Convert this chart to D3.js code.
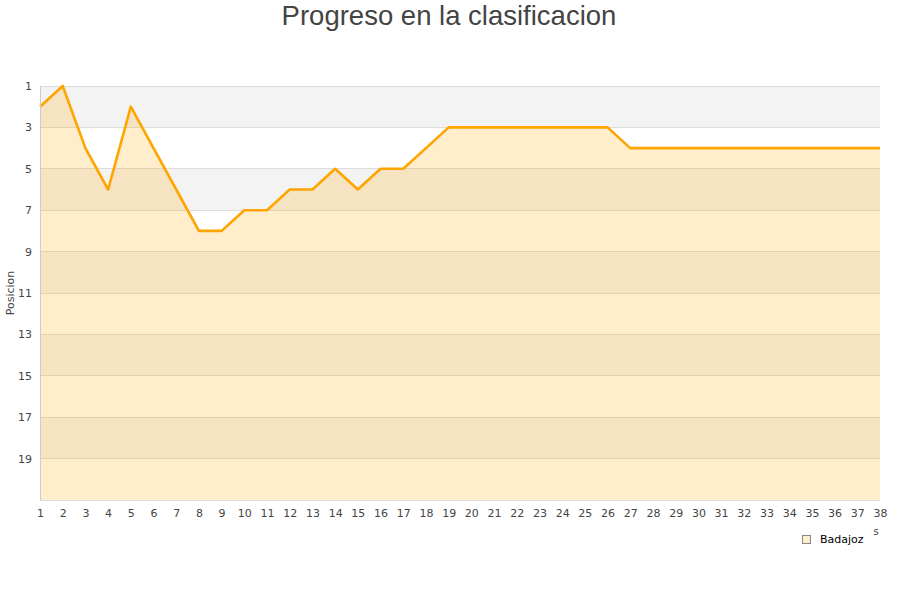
<!DOCTYPE html>
<html><head><meta charset="utf-8">
<script src="https://cdn.jsdelivr.net/npm/d3@7"></script>
<style>body{margin:0;background:#fff;font-family:"DejaVu Sans",sans-serif;}</style>
</head><body>
<svg id="c" width="900" height="600"></svg>
<script>
const jornadas = d3.range(1, 39);
const posiciones = [2,1,4,6,2,4,6,8,8,7,7,6,6,5,6,5,5,4,3,3,3,3,3,3,3,3,4,4,4,4,4,4,4,4,4,4,4,4];
const yTicks = [1,3,5,7,9,11,13,15,17,19];
const equipo = "Badajoz";

const svg = d3.select("#c");
const L = 40, R = 880, T = 86, B = 500;
const x = d3.scaleLinear().domain([1, 38]).range([L, R]);
const y = d3.scaleLinear().domain([1, 21]).range([T, B]);

// bands
const bands = d3.range(1, 21, 2);
svg.selectAll("rect.band").data(bands).enter().append("rect")
  .attr("x", L).attr("width", R - L)
  .attr("y", d => y(d)).attr("height", d => y(d + 2) - y(d))
  .attr("fill", (d, i) => i % 2 === 0 ? "#f3f3f3" : "#ffffff");

// gridlines
svg.selectAll("line.grid").data(yTicks).enter().append("line")
  .attr("x1", L).attr("x2", R).attr("y1", d => y(d)).attr("y2", d => y(d))
  .attr("stroke", "#dddddd").attr("stroke-width", 1).attr("shape-rendering", "crispEdges");

const data = jornadas.map((j, i) => ({j, p: posiciones[i]}));
svg.append("path").datum(data)
  .attr("d", d3.area().x(d => x(d.j)).y0(B).y1(d => y(d.p)))
  .attr("fill", "#ffa500").attr("fill-opacity", 0.2);
svg.append("path").datum(data)
  .attr("d", d3.line().x(d => x(d.j)).y(d => y(d.p)))
  .attr("fill", "none").attr("stroke", "#ffa500").attr("stroke-width", 2.6).attr("stroke-linejoin", "round");

// frame lines
svg.append("line").attr("x1", L).attr("x2", L).attr("y1", T).attr("y2", B)
  .attr("stroke", "#cccccc").attr("shape-rendering", "crispEdges");
svg.append("line").attr("x1", L).attr("x2", R).attr("y1", B).attr("y2", B)
  .attr("stroke", "#dddddd").attr("shape-rendering", "crispEdges");

// y axis
const ya = svg.append("g").attr("transform", `translate(${L},0)`)
  .call(d3.axisLeft(y).tickValues(yTicks).tickSize(0).tickPadding(8));
ya.select(".domain").remove();
ya.selectAll("text").attr("fill", "#444").attr("font-size", 11).attr("font-family", "DejaVu Sans");

// x axis
const xa = svg.append("g").attr("transform", `translate(0,${B})`)
  .call(d3.axisBottom(x).tickValues(jornadas).tickSize(0).tickPadding(9).tickFormat(d3.format("d")));
xa.select(".domain").remove();
xa.selectAll("text").attr("fill", "#444").attr("font-size", 11).attr("font-family", "DejaVu Sans");

// title
svg.append("text").attr("x", 449).attr("y", 25).attr("text-anchor", "middle")
  .attr("font-family", "Liberation Sans, Arial, sans-serif").attr("font-size", 27.5).attr("fill", "#444")
  .text("Progreso en la clasificacion");

// y label
svg.append("text").attr("transform", `translate(14,${(T + B) / 2}) rotate(-90)`)
  .attr("text-anchor", "middle").attr("font-size", 11).attr("fill", "#444").text("Posicion");

// stray axis-title fragment
svg.append("text").attr("x", 876).attr("y", 535).attr("text-anchor", "middle")
  .attr("font-size", 10).attr("fill", "#444").text("s");

// legend
svg.append("rect").attr("x", 802.5).attr("y", 535.5).attr("width", 8).attr("height", 8)
  .attr("fill", "#ffedcc").attr("stroke", "#888").attr("stroke-width", 1);
svg.append("text").attr("x", 820).attr("y", 543).attr("font-size", 11).attr("fill", "#000").text(equipo);
</script>
</body></html>
